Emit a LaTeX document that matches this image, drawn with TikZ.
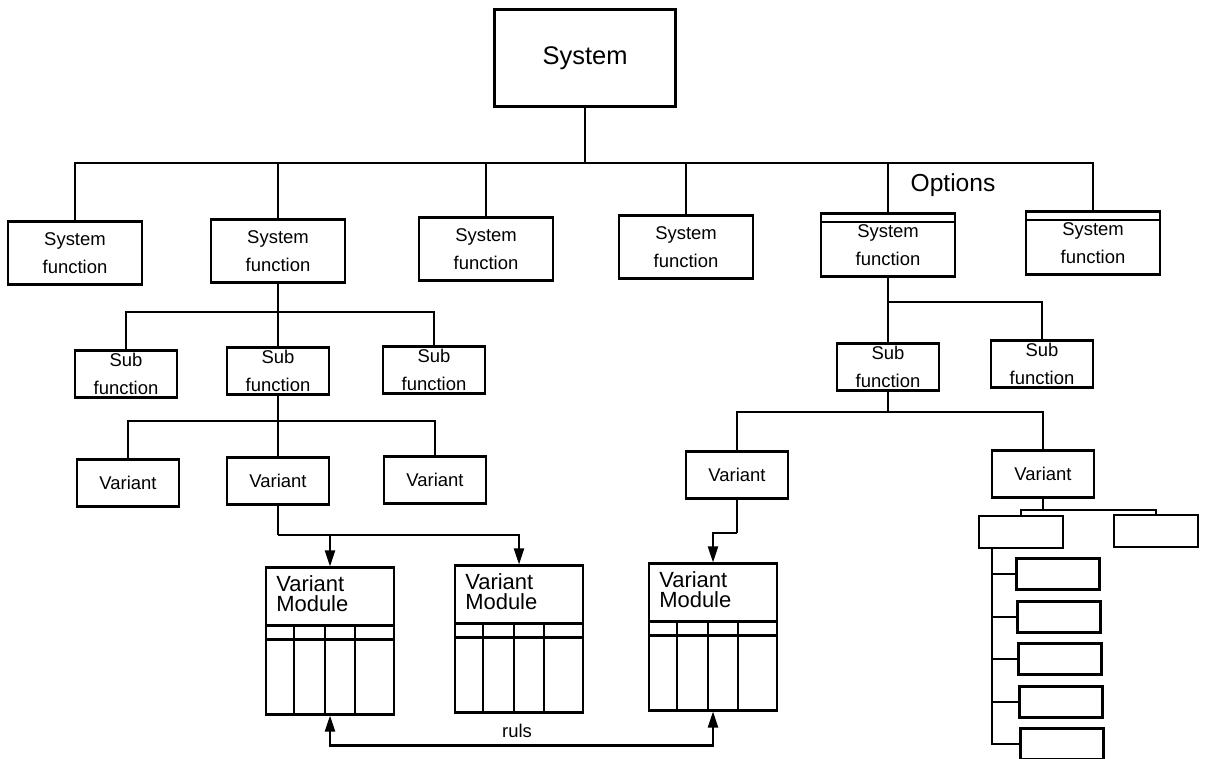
\documentclass[tikz,border=0pt]{standalone}
\usepackage{fontspec}
\setmainfont{Liberation Sans}
\usetikzlibrary{arrows.meta, positioning}
\tikzstyle{line} = [line width=1.2pt]
\tikzstyle{topbox} = [rectangle, draw=black, line width=1.2pt, minimum width=3.62cm, minimum height=1.94cm, font=\fontsize{14.5}{17}\selectfont]
\tikzstyle{sysfunc} = [rectangle, draw=black, line width=1.2pt, minimum width=2.68cm, minimum height=1.26cm, inner sep=0pt, align=center, font=\fontsize{10.5}{16}\selectfont]
\tikzstyle{optfunc} = [sysfunc, path picture={\draw [line] ([yshift=-0.17cm]path picture bounding box.north west) -- ([yshift=-0.17cm]path picture bounding box.north east);}]
\tikzstyle{subfunc} = [rectangle, draw=black, line width=1.2pt, minimum width=2.04cm, minimum height=0.94cm, inner sep=0pt, align=center, font=\fontsize{10.5}{16}\selectfont]
\tikzstyle{module} = [rectangle, draw=black, line width=1.2pt, minimum width=2.56cm, minimum height=2.94cm, inner sep=0pt,
  path picture={
    \draw [line] ([shift={(0,58)}]path picture bounding box.north west) -- ([shift={(0,58)}]path picture bounding box.north east);
    \draw [line] ([shift={(0,72)}]path picture bounding box.north west) -- ([shift={(0,72)}]path picture bounding box.north east);
    \foreach \c in {28,59,89}
      \draw [line] ([shift={(\c,58)}]path picture bounding box.north west) -- ([shift={(\c,0)}]path picture bounding box.south west);
  }]
\tikzstyle{modtext} = [anchor=north west, align=left, inner sep=0pt, font=\fontsize{12.5}{11.5}\selectfont]
\tikzstyle{leaf} = [rectangle, draw=black, line width=1.2pt, minimum width=1.68cm, minimum height=0.64cm]
\tikzstyle{stub} = [rectangle, draw=black, line width=1.2pt, minimum width=1.66cm, minimum height=0.62cm]
\tikzstyle{arrow} = [line width=1.2pt, -{Triangle[length=0.32cm, width=0.2cm]}]
\tikzstyle{biarrow} = [line width=1.2pt, {Triangle[length=0.32cm, width=0.2cm]}-{Triangle[length=0.32cm, width=0.2cm]}]

\begin{document}
\begin{tikzpicture}[x=0.02cm, y=-0.02cm]
    \useasboundingbox (0,0) rectangle (1207,759);

    % top level
    \node (sys) [topbox] at (585,58) {System};
    \node (sf1) [sysfunc] at (75,253) {System\\function};
    \node (sf2) [sysfunc] at (278,251) {System\\function};
    \node (sf3) [sysfunc] at (486,249) {System\\function};
    \node (sf4) [sysfunc] at (686,247) {System\\function};
    \node (sf5) [optfunc] at (888,245) {System\\function};
    \node (sf6) [optfunc] at (1093,243) {System\\function};
    \node (opt) [font=\fontsize{14}{16}\selectfont] at (953,185) {Options};

    \coordinate (bus1) at (585,163);
    \draw [line] (sys) -- (bus1);
    \draw [line] (bus1) -| (sf1);
    \draw [line] (bus1) -| (sf2);
    \draw [line] (bus1) -| (sf3);
    \draw [line] (bus1) -| (sf4);
    \draw [line] (bus1) -| (sf5);
    \draw [line] (bus1) -| (sf6);

    % left branch
    \node (sub1) [subfunc] at (126,374) {Sub\\function};
    \node (sub2) [subfunc] at (278,371) {Sub\\function};
    \node (sub3) [subfunc] at (434,370) {Sub\\function};
    \coordinate (bus2) at (278,312);
    \draw [line] (sf2) -- (bus2);
    \draw [line] (bus2) -| (sub1);
    \draw [line] (bus2) -| (sub2);
    \draw [line] (bus2) -| (sub3);

    \node (var1) [subfunc] at (128,483) {Variant};
    \node (var2) [subfunc] at (278,481) {Variant};
    \node (var3) [subfunc] at (435,480) {Variant};
    \coordinate (bus3) at (278,421);
    \draw [line] (sub2) -- (bus3);
    \draw [line] (bus3) -| (var1);
    \draw [line] (bus3) -| (var2);
    \draw [line] (bus3) -| (var3);

    % modules
    \node (mod1) [module] at (330,641) {};
    \node (mod2) [module] at (519,639) {};
    \node (mod3) [module] at (713,637) {};
    \node (mod1t) [modtext] at ([shift={(11,9)}]mod1.north west) {Variant\\Module};
    \node (mod2t) [modtext] at ([shift={(11,9)}]mod2.north west) {Variant\\Module};
    \node (mod3t) [modtext] at ([shift={(11,9)}]mod3.north west) {Variant\\Module};

    \coordinate (vj) at (278,535);
    \draw [line] (var2) -- (vj);
    \draw [arrow] (vj) -| (mod1);
    \draw [arrow] (vj) -| (mod2);

    % right branch
    \node (sub4) [subfunc] at (888,367) {Sub\\function};
    \node (sub5) [subfunc] at (1042,364) {Sub\\function};
    \coordinate (bus4) at (888,302);
    \draw [line] (sf5) -- (bus4);
    \draw [line] (bus4) -| (sub4);
    \draw [line] (bus4) -| (sub5);

    \node (var4) [subfunc] at (737,475) {Variant};
    \node (var5) [subfunc] at (1043,474) {Variant};
    \coordinate (bus5) at (888,412);
    \draw [line] (sub4) -- (bus5);
    \draw [line] (bus5) -| (var4);
    \draw [line] (bus5) -| (var5);

    \coordinate (v4j) at (737,533);
    \draw [line] (var4) -- (v4j);
    \draw [arrow] (v4j) -| (mod3);

    % rules between modules
    \draw [biarrow] (mod1.south) -- ++(0,30) -| (mod3.south);
    \node (ruls) [font=\fontsize{10.5}{12}\selectfont] at (517,731) {ruls};

    % lower right tree
    \node (leafa) [leaf] at (1021,532) {};
    \node (leafb) [leaf] at (1156,531) {};
    \coordinate (bus6) at (1043,510);
    \draw [line] (var5) -- (bus6);
    \draw [line] (bus6) -| (leafa);
    \draw [line] (bus6) -| (leafb);

    \node (st1) [stub] at (1058,574) {};
    \node (st2) [stub] at (1059,617) {};
    \node (st3) [stub] at (1060,659) {};
    \node (st4) [stub] at (1061,702) {};
    \node (st5) [stub] at (1062,744) {};
    \draw [line] ([xshift=0.28cm]leafa.south west) |- (st1);
    \draw [line] ([xshift=0.28cm]leafa.south west) |- (st2);
    \draw [line] ([xshift=0.28cm]leafa.south west) |- (st3);
    \draw [line] ([xshift=0.28cm]leafa.south west) |- (st4);
    \draw [line] ([xshift=0.28cm]leafa.south west) |- (st5);
\end{tikzpicture}
\end{document}
